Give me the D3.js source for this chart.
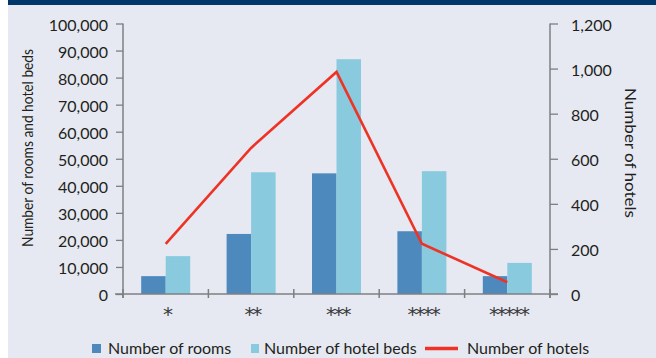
<!DOCTYPE html>
<html>
<head>
<meta charset="utf-8">
<script src="https://cdn.jsdelivr.net/npm/d3@7/dist/d3.min.js"></script>
<style>
  html, body { margin: 0; padding: 0; background: #ffffff; }
  svg { display: block; font-family: Lato, "Open Sans", sans-serif; }
</style>
</head>
<body>
<svg id="chart" width="656" height="358"></svg>
<script>
// Hotel supply by star rating
const categories = ["*", "**", "***", "****", "*****"];
const rooms = [6600, 22200, 44600, 23200, 6600];
const beds = [14000, 45000, 86800, 45400, 11500];
const hotels = [222, 648, 985, 223, 52];
const leftTicks = [0, 10000, 20000, 30000, 40000, 50000, 60000, 70000, 80000, 90000, 100000];
const rightTicks = [0, 200, 400, 600, 800, 1000, 1200];
const seriesNames = ["Number of rooms", "Number of hotel beds", "Number of hotels"];

const colors = { rooms: "#4e89be", beds: "#89cadf", hotels: "#ee3325" };
const axisColor = "#7f7f80";
const textColor = "#231f20";

const svg = d3.select("#chart");

// panel background and top band
svg.append("rect").attr("x", 8).attr("y", 0).attr("width", 648).attr("height", 358).attr("fill", "#e6e9f2");
svg.append("rect").attr("x", 8).attr("y", 0).attr("width", 648).attr("height", 5).attr("fill", "#00376b");

const plotLeft = 123, plotRight = 550, plotTop = 23.5, plotBottom = 294;

const x = d3.scaleBand().domain(categories).range([plotLeft, plotRight]).paddingInner(0).paddingOuter(0);
const groupW = 49;
const x1 = d3.scaleBand().domain(["rooms", "beds"]).range([0, groupW]);
const yL = d3.scaleLinear().domain([0, 100000]).range([plotBottom, plotTop]);
const yR = d3.scaleLinear().domain([0, 1200]).range([plotBottom, plotTop]);

const fmt = d3.format(",");

// bars
const offset = (x.bandwidth() - groupW) / 2;
const g = svg.append("g");
categories.forEach((c, i) => {
  [["rooms", rooms[i]], ["beds", beds[i]]].forEach(([k, v]) => {
    g.append("rect")
      .attr("x", x(c) + offset + x1(k))
      .attr("y", yL(v))
      .attr("width", x1.bandwidth())
      .attr("height", yL(0) - yL(v))
      .attr("fill", colors[k]);
  });
});

// left axis
const axL = svg.append("g").attr("transform", `translate(${plotLeft},0)`)
  .call(d3.axisLeft(yL).tickValues(leftTicks).tickFormat(fmt).tickSize(7).tickSizeOuter(0).tickPadding(8));
axL.select(".domain").remove();
axL.selectAll("line").attr("stroke", axisColor).attr("stroke-width", 1.3);
axL.selectAll("text").attr("fill", textColor).attr("font-size", 16).attr("font-family", "Lato").attr("dy", "0.42em");
svg.append("line").attr("x1", plotLeft).attr("x2", plotLeft).attr("y1", plotTop).attr("y2", plotBottom + 4)
  .attr("stroke", axisColor).attr("stroke-width", 1.5);

// right axis
const axR = svg.append("g").attr("transform", `translate(${plotRight},0)`)
  .call(d3.axisRight(yR).tickValues(rightTicks).tickFormat(fmt).tickSize(8).tickSizeOuter(0).tickPadding(13));
axR.select(".domain").remove();
axR.selectAll("line").attr("stroke", axisColor).attr("stroke-width", 1.3);
axR.selectAll("text").attr("fill", textColor).attr("font-size", 16).attr("font-family", "Lato").attr("dy", "0.42em");
svg.append("line").attr("x1", plotRight).attr("x2", plotRight).attr("y1", plotTop).attr("y2", plotBottom + 4)
  .attr("stroke", axisColor).attr("stroke-width", 1.5);

// x axis
svg.append("line").attr("x1", plotLeft - 8).attr("x2", plotRight + 8).attr("y1", plotBottom).attr("y2", plotBottom)
  .attr("stroke", axisColor).attr("stroke-width", 1.5);
const boundaries = categories.map(c => x(c)).concat([plotRight]);
svg.append("g").selectAll("line").data(boundaries).join("line")
  .attr("x1", d => d).attr("x2", d => d).attr("y1", plotBottom - 5).attr("y2", plotBottom + 4)
  .attr("stroke", axisColor).attr("stroke-width", 1.5);
const starSpacing = -2.2;
svg.append("g").selectAll("text").data(categories).join("text")
  .attr("x", c => x(c) + x.bandwidth() / 2 - starSpacing / 2)
  .attr("y", 321)
  .attr("text-anchor", "middle")
  .attr("font-family", "DejaVu Sans")
  .attr("font-size", 20)
  .attr("letter-spacing", starSpacing)
  .attr("fill", "#3a3a3c")
  .text(c => c);

// line series
const line = d3.line().x((d, i) => x(categories[i]) + x.bandwidth() / 2).y(d => yR(d));
svg.append("path").datum(hotels).attr("d", line)
  .attr("fill", "none").attr("stroke", colors.hotels).attr("stroke-width", 2.6).attr("stroke-linejoin", "miter");

// axis titles
svg.append("text")
  .attr("transform", "translate(33,148) rotate(-90)")
  .attr("text-anchor", "middle")
  .attr("font-size", 15)
  .attr("textLength", 198)
  .attr("lengthAdjust", "spacingAndGlyphs")
  .attr("fill", textColor)
  .text("Number of rooms and hotel beds");
svg.append("text")
  .attr("transform", "translate(625,153) rotate(90)")
  .attr("text-anchor", "middle")
  .attr("font-size", 15)
  .attr("textLength", 130)
  .attr("lengthAdjust", "spacingAndGlyphs")
  .attr("fill", textColor)
  .text("Number of hotels");

// legend
const leg = svg.append("g");
const lb = 354;
leg.append("rect").attr("x", 92).attr("y", 344).attr("width", 9).attr("height", 9).attr("fill", colors.rooms);
leg.append("text").attr("x", 108).attr("y", lb).attr("font-size", 16).attr("fill", textColor).text(seriesNames[0]);
leg.append("rect").attr("x", 251).attr("y", 344).attr("width", 8).attr("height", 9).attr("fill", colors.beds);
leg.append("text").attr("x", 264).attr("y", lb).attr("font-size", 16).attr("fill", textColor).text(seriesNames[1]);
leg.append("line").attr("x1", 425).attr("x2", 458).attr("y1", 348.5).attr("y2", 348.5)
  .attr("stroke", colors.hotels).attr("stroke-width", 3.5);
leg.append("text").attr("x", 467).attr("y", lb).attr("font-size", 16).attr("fill", textColor).text(seriesNames[2]);
</script>
</body>
</html>
